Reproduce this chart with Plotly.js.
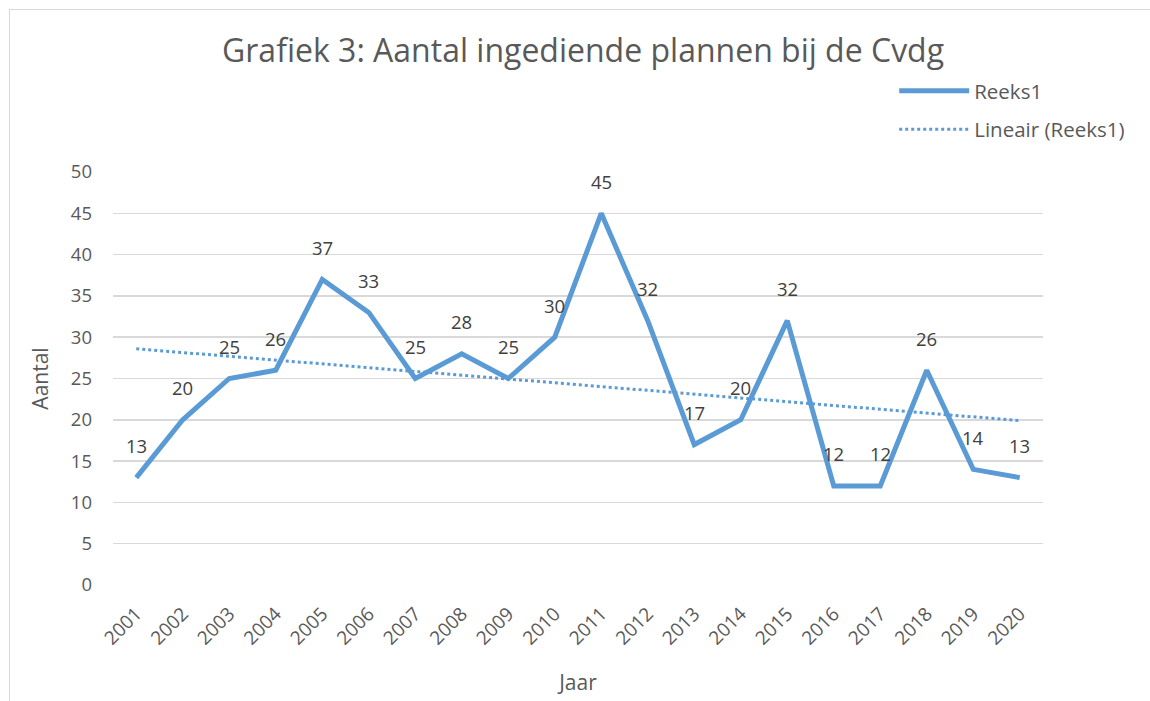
<!DOCTYPE html>
<html>
<head>
<meta charset="utf-8">
<script src="https://cdn.plot.ly/plotly-3.0.1.min.js"></script>
<style>
html,body{margin:0;padding:0;background:#fff;}
#wrap{position:relative;width:1150px;height:701px;overflow:hidden;}
#chart{position:absolute;left:0;top:0;width:1150px;height:701px;}
#frame{position:absolute;left:9px;top:9px;width:1200px;height:800px;border-left:1.5px solid #d9d9d9;border-top:1.5px solid #d9d9d9;pointer-events:none;}
</style>
</head>
<body>
<div id="wrap"><div id="chart"></div><div id="frame"></div></div>
<script>
const years = ['2001','2002','2003','2004','2005','2006','2007','2008','2009','2010','2011','2012','2013','2014','2015','2016','2017','2018','2019','2020'];
const aantal = [13,20,25,26,37,33,25,28,25,30,45,32,17,20,32,12,12,26,14,13];
const trendYears = ['2001','2020'];
const trendValues = [28.6, 19.9];
const yTicks = [0,5,10,15,20,25,30,35,40,45,50];

const font = 'Open Sans, Noto Sans, sans-serif';
const grey = '#595959';
const blue = '#5B9BD5';

const traces = [
  {x: years, y: aantal, type: 'scatter', mode: 'lines', name: 'Reeks1', legendgroup: 'a',
   line: {color: blue, width: 5, shape: 'linear'}},
  {x: trendYears, y: trendValues, type: 'scatter', mode: 'lines', name: 'Lineair (Reeks1)', legendgroup: 'b',
   line: {color: blue, width: 3, dash: 'dot'}}
];

const annotations = aantal.map((v, i) => ({
  x: i, y: v, xref: 'x', yref: 'y', text: String(v),
  showarrow: false, yshift: 32, yanchor: 'middle', xanchor: 'center',
  font: {family: font, size: 18.5, color: '#404040'}
}));

const layout = {
  width: 1150, height: 701,
  paper_bgcolor: '#fff', plot_bgcolor: '#fff',
  margin: {l: 113, r: 107, t: 172, b: 116},
  title: {text: 'Grafiek 3: Aantal ingediende plannen bij de Cvdg',
          font: {family: font, size: 32, color: grey},
          x: 0.507, xanchor: 'center', y: 0.928, yanchor: 'middle'},
  showlegend: true,
  legend: {x: 0.84, xanchor: 'left', xref: 'paper', y: 1.245, yanchor: 'top',
           font: {family: font, size: 20.5, color: grey},
           bgcolor: 'rgba(0,0,0,0)', itemwidth: 70, tracegroupgap: 9},
  xaxis: {type: 'category', range: [-0.5, 19.5], showgrid: false, zeroline: false, showline: false,
          ticks: '', tickangle: -45, ticklabelstandoff: 13, tickfont: {family: font, size: 19, color: grey},
          title: {text: 'Jaar', font: {family: font, size: 21, color: grey}, standoff: 26},
          fixedrange: true},
  yaxis: {range: [0, 50], tickvals: yTicks, showgrid: true, gridcolor: '#d9d9d9', gridwidth: 1.5,
          zeroline: false, showline: false, ticks: '', ticklabelstandoff: 20,
          tickfont: {family: font, size: 18.5, color: grey},
          title: {text: 'Aantal', font: {family: font, size: 21, color: grey}, standoff: 16},
          fixedrange: true},
  annotations: annotations
};

Plotly.newPlot('chart', traces, layout, {displayModeBar: false, staticPlot: true});
</script>
</body>
</html>
